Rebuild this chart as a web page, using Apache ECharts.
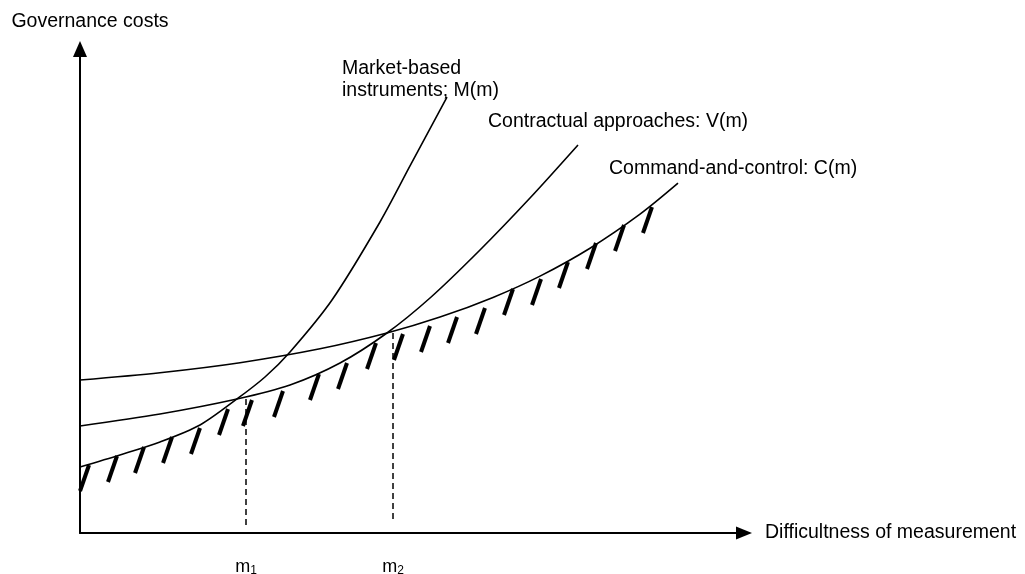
<!DOCTYPE html>
<html><head><meta charset="utf-8">
<script src="https://cdn.jsdelivr.net/npm/echarts@6/dist/echarts.min.js"></script>
<style>html,body{margin:0;padding:0;background:#fff}#c{width:1025px;height:574px}</style>
</head><body><div id="c"></div>
<script>
// ---- data (arbitrary units, axes 0..100) ----
const seriesNames = ['Market-based instruments; M(m)', 'Contractual approaches: V(m)', 'Command-and-control: C(m)'];
const mX = [0, 6.02, 12.05, 18.07, 23.64, 27.86, 31.63, 37.95, 45.18, 49.70, 55.27];
const mY = [13.64, 16.12, 18.80, 22.31, 27.69, 32.23, 37.40, 48.14, 64.26, 75.83, 90.08];
const vX = [0, 12.05, 23.64, 31.63, 39.16, 46.23, 52.71, 60.24, 67.77, 75.0];
const vY = [22.11, 24.59, 27.69, 30.58, 35.12, 41.32, 48.55, 58.47, 69.21, 80.17];
const cX = [0, 12.05, 24.10, 36.14, 46.23, 54.22, 62.2, 69.28, 76.81, 84.34, 90.06];
const cY = [31.61, 33.12, 35.19, 38.06, 41.32, 44.61, 48.68, 53.08, 58.84, 65.87, 72.27];
const hatchX = [1.36, 5.57, 9.64, 13.86, 18.07, 22.29, 25.90, 30.57, 35.99, 40.21, 44.58, 48.64, 52.71, 56.78, 60.99, 65.21, 69.43, 73.49, 77.71, 81.93, 86.14];
const hatchY = [14.05, 15.91, 17.77, 19.83, 21.69, 25.62, 27.48, 29.34, 32.85, 35.12, 39.26, 41.12, 42.77, 44.63, 46.49, 50.41, 52.48, 55.99, 59.92, 63.64, 67.36];
const markerX = [25.0, 47.14];
const markerSub = ['1', '2'];
const markerTop = [27.7, 41.3];
const markerBottom = [1.0, 2.1];
const xTitle = 'Difficultness of measurement';
const yTitle = 'Governance costs';

const FONT = "'Liberation Sans', Arial, sans-serif";
const zip = (xs, ys) => xs.map((x, i) => [x, ys[i]]);

const chart = echarts.init(document.getElementById('c'), null, {renderer: 'canvas'});
const curveStyle = {color: '#000', width: 1.6};
const lineSeries = (name, xs, ys) => ({
  name, type: 'line', data: zip(xs, ys), showSymbol: false, symbol: 'none',
  smooth: 0.3, lineStyle: curveStyle, itemStyle: {color: '#000'}, silent: true, z: 3
});

const option = {
  backgroundColor: '#fff',
  animation: false,
  textStyle: {fontFamily: FONT, color: '#000'},
  grid: {left: 80, right: 281, top: 49, bottom: 41, containLabel: false, outerBoundsMode: 'none'},
  xAxis: {
    type: 'value', min: 0, max: 100,
    name: xTitle, nameLocation: 'end', nameGap: 21,
    nameTextStyle: {fontFamily: FONT, fontSize: 19.5, color: '#000', lineHeight: 22, padding: [0, 0, 13, 0]},
    axisLine: {show: true, symbol: ['none', 'triangle'], symbolSize: [13, 16], lineStyle: {color: '#000', width: 2}},
    axisTick: {show: false},
    splitLine: {show: false},
    axisLabel: {
      show: true, customValues: markerX, margin: 24, color: '#000', fontFamily: FONT,
      formatter: (v) => { const i = markerX.findIndex(m => Math.abs(m - v) < 1e-6); return '{m|m}{s|' + markerSub[i] + '}'; },
      rich: {
        m: {fontSize: 18, lineHeight: 20, fontFamily: FONT, color: '#000'},
        s: {fontSize: 12, lineHeight: 20, verticalAlign: 'bottom', fontFamily: FONT, color: '#000'}
      }
    }
  },
  yAxis: {
    type: 'value', min: 0, max: 100,
    name: yTitle, nameLocation: 'end', nameGap: 16,
    nameTextStyle: {fontFamily: FONT, fontSize: 19.5, color: '#000', lineHeight: 22, padding: [0, 0, 0, 20]},
    axisLine: {show: true, symbol: ['none', 'triangle'], symbolSize: [14, 16], lineStyle: {color: '#000', width: 2}},
    axisTick: {show: false}, axisLabel: {show: false}, splitLine: {show: false}
  },
  graphic: [
    {type: 'text', left: 342, top: 57.6, silent: true,
     style: {text: 'Market-based\ninstruments; M(m)', font: '19.5px ' + FONT, fill: '#000', lineHeight: 22}},
    {type: 'text', left: 488, top: 110.6, silent: true,
     style: {text: 'Contractual approaches: V(m)', font: '19.5px ' + FONT, fill: '#000', lineHeight: 22}},
    {type: 'text', left: 609, top: 157.6, silent: true,
     style: {text: 'Command-and-control: C(m)', font: '19.5px ' + FONT, fill: '#000', lineHeight: 22}}
  ],
  series: [
    lineSeries(seriesNames[0], mX, mY),
    lineSeries(seriesNames[1], vX, vY),
    lineSeries(seriesNames[2], cX, cY),
    {
      name: 'hatching', type: 'custom', silent: true, z: 4,
      data: zip(hatchX, hatchY),
      encode: {x: 0, y: 1},
      renderItem: (params, api) => {
        const p = api.coord([api.value(0), api.value(1)]);
        return {type: 'line', shape: {x1: p[0], y1: p[1], x2: p[0] - 9, y2: p[1] + 26},
                style: {stroke: '#000', lineWidth: 4, lineCap: 'butt'}};
      }
    },
    ...markerX.map((mx, i) => ({
      name: 'm' + markerSub[i], type: 'line', symbol: 'none', silent: true, z: 2,
      data: [[mx, markerTop[i]], [mx, markerBottom[i]]],
      lineStyle: {color: '#000', width: 1.5, type: [6, 4]}
    }))
  ]
};
chart.setOption(option);
</script>
</body></html>
